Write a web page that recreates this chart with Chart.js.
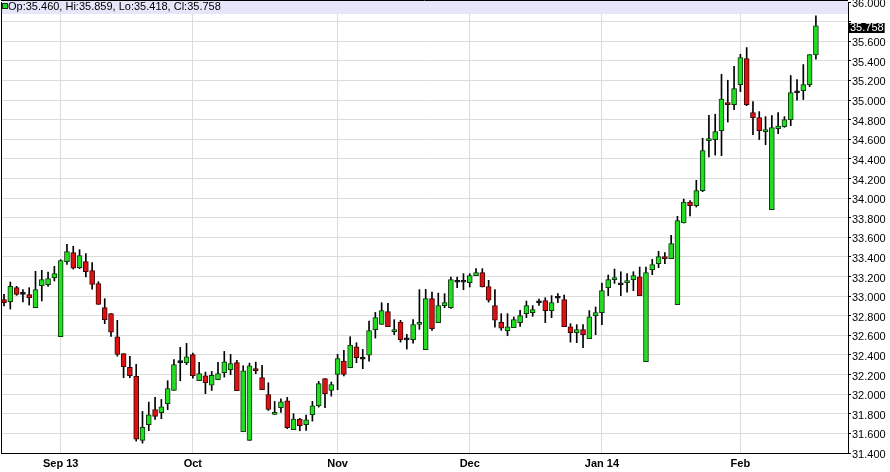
<!DOCTYPE html>
<html>
<head>
<meta charset="utf-8">
<script src="https://cdn.jsdelivr.net/npm/chart.js@4.4.1/dist/chart.umd.min.js"></script>
<style>
html,body{margin:0;padding:0;background:#fff;}
#wrap{width:890px;height:472px;position:relative;}
</style>
</head>
<body>
<div id="wrap"><canvas id="c" width="890" height="472"></canvas></div>
<script>
const opens = [32.964,32.944,33.086,33.018,33.015,32.882,33.107,33.117,33.188,32.586,
33.352,33.444,33.291,33.352,33.260,33.127,32.882,32.821,32.586,32.413,
32.273,32.181,31.528,31.688,31.842,31.811,31.903,32.039,32.321,32.321,
32.403,32.137,32.188,32.092,32.147,32.219,32.250,32.321,31.617,31.528,
32.260,32.168,31.995,31.793,31.862,31.933,31.637,31.746,31.688,31.790,
31.882,32.158,32.038,32.202,32.338,32.270,32.484,32.360,32.399,32.658,
32.712,32.842,32.637,32.735,32.558,32.556,32.712,32.454,32.974,32.729,
32.903,32.882,33.146,33.146,33.137,33.209,33.239,33.097,32.903,32.732,
32.647,32.678,32.729,32.821,32.831,32.935,32.954,32.852,32.982,32.964,
32.688,32.627,32.658,32.566,32.801,32.831,33.086,33.168,33.119,33.137,
33.168,33.198,32.331,33.270,33.331,33.403,33.382,32.913,33.746,33.960,
33.923,34.076,34.586,34.596,34.688,34.974,34.953,35.158,35.423,34.872,
34.821,34.678,33.882,34.709,34.729,34.801,35.078,35.096,35.158,35.460];
const highs = [33.018,33.144,33.100,33.066,33.086,33.253,33.263,33.245,33.304,33.372,
33.528,33.508,33.474,33.433,33.341,33.147,32.974,32.821,32.753,32.413,
32.385,32.304,31.824,31.919,31.967,31.946,32.137,32.352,32.477,32.518,
32.419,32.324,32.225,32.232,32.324,32.436,32.406,32.345,32.290,32.317,
32.327,32.293,32.117,31.926,31.953,31.967,31.801,31.753,31.787,31.926,
32.130,32.158,32.124,32.406,32.447,32.586,32.525,32.457,32.745,32.834,
32.933,32.926,32.760,32.753,32.610,32.760,33.066,33.069,33.041,33.031,
33.025,33.195,33.195,33.229,33.229,33.280,33.280,33.161,33.066,32.821,
32.821,32.787,32.855,32.950,32.903,32.970,32.984,33.005,33.025,33.010,
32.719,32.709,32.709,32.852,32.889,33.134,33.215,33.276,33.249,33.229,
33.249,33.297,33.297,33.375,33.457,33.443,33.620,33.814,33.990,33.975,
34.181,34.610,34.845,34.855,35.263,35.202,35.344,35.467,35.535,34.984,
34.882,34.831,34.841,34.872,34.831,35.250,35.209,35.362,35.464,35.859];
const lows = [32.899,32.868,33.008,32.940,32.909,32.882,32.950,33.100,33.154,32.586,
33.324,33.276,33.280,33.195,33.072,32.916,32.719,32.590,32.388,32.168,
32.168,31.521,31.501,31.627,31.742,31.750,31.842,32.039,32.137,32.301,
32.164,32.137,32.005,32.038,32.147,32.174,32.199,32.035,31.617,31.528,
32.209,32.045,31.834,31.793,31.814,31.648,31.637,31.627,31.630,31.725,
31.868,31.862,31.980,32.046,32.185,32.270,32.321,32.260,32.337,32.572,
32.712,32.688,32.607,32.531,32.460,32.521,32.661,32.454,32.651,32.729,
32.882,32.875,33.086,33.066,33.093,33.209,33.093,32.939,32.684,32.651,
32.596,32.678,32.692,32.780,32.794,32.906,32.730,32.780,32.933,32.688,
32.531,32.525,32.474,32.566,32.607,32.709,33.005,33.130,33.005,33.041,
33.056,33.005,32.331,33.219,33.290,33.331,33.382,32.913,33.746,33.817,
33.909,34.066,34.419,34.439,34.433,34.776,34.903,35.086,34.943,34.648,
34.597,34.545,33.882,34.658,34.722,34.739,34.998,35.005,35.137,35.418];
const closes = [32.933,33.100,33.018,33.020,32.984,33.066,33.168,33.178,33.229,33.362,
33.454,33.286,33.413,33.250,33.120,32.916,32.760,32.633,32.406,32.280,
32.188,31.542,31.661,31.790,31.773,31.872,32.056,32.301,32.325,32.382,
32.188,32.209,32.117,32.191,32.209,32.331,32.311,32.035,32.239,32.290,
32.240,32.045,31.845,31.814,31.923,31.658,31.746,31.678,31.739,31.882,
32.107,32.005,32.097,32.362,32.202,32.501,32.372,32.356,32.648,32.780,
32.852,32.688,32.658,32.556,32.554,32.709,32.732,32.974,32.668,32.903,
32.933,33.168,33.142,33.142,33.209,33.239,33.093,32.960,32.756,32.674,
32.688,32.760,32.801,32.903,32.862,32.931,32.852,32.933,32.978,32.688,
32.627,32.658,32.607,32.790,32.831,33.056,33.168,33.188,33.115,33.158,
33.209,33.005,33.239,33.321,33.403,33.382,33.535,33.770,33.960,33.923,
34.076,34.484,34.607,34.678,35.011,34.953,35.117,35.433,34.954,34.821,
34.688,34.698,34.719,34.735,34.800,35.076,35.074,35.158,35.464,35.758];
const monthTickIndex = [9, 30, 53, 74, 95, 117];
const monthLabels = ['Sep 13', 'Oct', 'Nov', 'Dec', 'Jan 14', 'Feb'];
const yMin = 31.4, yMax = 36.0, yStep = 0.2;

const NARROW = "'Liberation Sans Narrow','Arial Narrow','Liberation Sans',Arial,sans-serif";
const SANS = "'Liberation Sans',Arial,sans-serif";
const GREEN = '#22dd22', GREEN_B = '#0b3a0b', RED = '#dd1111', RED_B = '#3f0606';

const lastClose = closes[closes.length - 1];
const bodies = opens.map((o, i) => ({x: i, y: [o, closes[i]]}));
const wicks = lows.map((l, i) => ({x: i, y: [l, highs[i]]}));
const kind = opens.map((o, i) => Math.abs(closes[i] - o) < 0.01 ? 0 : (closes[i] > o ? 1 : -1));

const overlay = {
  id: 'overlay',
  beforeDatasetsDraw(chart) {
    const {ctx, chartArea: a} = chart;
    ctx.save();
    ctx.strokeStyle = '#000'; ctx.lineWidth = 1;
    ctx.beginPath();
    ctx.moveTo(a.left + 0.5, a.top); ctx.lineTo(a.left + 0.5, a.bottom);
    ctx.stroke();
    ctx.restore();
  },
  afterDatasetsDraw(chart) {
    const {ctx, chartArea: a} = chart;
    const n = opens.length - 1;
    ctx.save();
    ctx.fillStyle = '#e6e6fa';
    ctx.fillRect(a.left + 1, 1, a.right - a.left - 1, 13);
    ctx.strokeStyle = '#000'; ctx.lineWidth = 1;
    ctx.beginPath(); ctx.moveTo(a.left, 0.5); ctx.lineTo(a.right, 0.5); ctx.stroke();
    ctx.fillStyle = closes[n] >= opens[n] ? GREEN : RED;
    ctx.fillRect(a.left + 1, 3, 6, 6);
    ctx.strokeStyle = closes[n] >= opens[n] ? GREEN_B : RED_B;
    ctx.strokeRect(a.left + 1.5, 3.5, 5, 5);
    ctx.fillStyle = '#000';
    ctx.font = '11px ' + SANS;
    ctx.textBaseline = 'middle';
    ctx.textAlign = 'left';
    const f = v => v.toFixed(3);
    ctx.fillText('Op:' + f(opens[n]) + ', Hi:' + f(highs[n]) + ', Lo:' + f(lows[n]) + ', Cl:' + f(closes[n]), a.left + 7, 7);
    ctx.restore();
  },
  afterDraw(chart) {
    const {ctx, scales} = chart;
    const y = scales.y.getPixelForValue(lastClose) + 2;
    ctx.save();
    ctx.font = '11px ' + NARROW;
    const txt = lastClose.toFixed(3);
    const w = ctx.measureText(txt).width;
    const x0 = scales.y.left + 1;
    ctx.fillStyle = '#000';
    ctx.fillRect(x0, Math.round(y - 5), w + 2, 10);
    ctx.fillStyle = '#fff';
    ctx.textBaseline = 'middle';
    ctx.fillText(txt, x0 + 1, y + 0.5);
    ctx.restore();
  }
};

new Chart(document.getElementById('c'), {
  type: 'bar',
  data: {
    datasets: [
      {
        data: bodies,
        backgroundColor: kind.map(k => k > 0 ? GREEN : (k < 0 ? RED : '#111')),
        borderColor: kind.map(k => k > 0 ? GREEN_B : (k < 0 ? RED_B : '#111')),
        borderWidth: 1,
        borderSkipped: false,
        barThickness: 5,
        minBarLength: 2,
        grouped: false,
        order: 0
      },
      {
        data: wicks,
        backgroundColor: '#000',
        borderWidth: 0,
        barThickness: 1,
        grouped: false,
        order: 1
      }
    ]
  },
  options: {
    responsive: false,
    devicePixelRatio: 1,
    animation: false,
    layout: {padding: {top: 2, left: 1, right: 0, bottom: 0}},
    plugins: {legend: {display: false}, tooltip: {enabled: false}},
    scales: {
      x: {
        type: 'linear',
        min: -0.48,
        max: 134.1,
        offset: false,
        position: 'bottom',
        grid: {color: '#dcdcdc', lineWidth: 1, drawTicks: false, offset: false},
        border: {display: true, color: '#000', width: 1},
        afterBuildTicks: s => { s.ticks = monthTickIndex.map(v => ({value: v})); },
        afterFit: s => { s.height = 19; s.paddingLeft = 0; s.paddingRight = 0; },
        ticks: {
          autoSkip: false,
          maxRotation: 0,
          padding: 4,
          color: '#000',
          font: {family: NARROW, size: 11, weight: 'bold'},
          callback: (v, i) => monthLabels[i]
        }
      },
      y: {
        type: 'linear',
        position: 'right',
        min: yMin,
        max: yMax,
        grid: {color: '#dcdcdc', lineWidth: 1, tickColor: '#000', tickLength: 3},
        border: {display: true, color: '#000', width: 1},
        afterFit: s => { s.width = 42; s.paddingTop = 0; s.paddingBottom = 0; },
        ticks: {
          stepSize: yStep,
          padding: 1,
          labelOffset: 2,
          color: '#000',
          font: {family: NARROW, size: 11},
          callback: v => Math.abs(v - lastClose) < 0.1 ? '' : Number(v).toFixed(3)
        }
      }
    }
  },
  plugins: [overlay]
});
</script>
</body>
</html>
